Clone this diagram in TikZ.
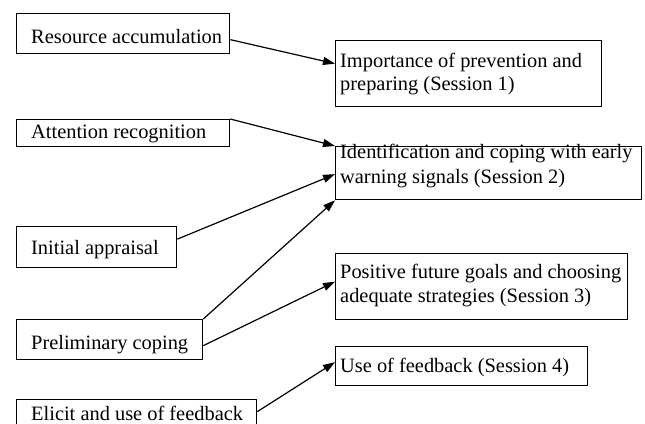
\documentclass[tikz,border=0pt]{standalone}
\usepackage{fontspec}
\setmainfont{Liberation Serif}
\usetikzlibrary{arrows.meta}
\begin{document}
\begin{tikzpicture}[x=1pt,y=-1pt,
  box/.style={draw, line width=1.3pt, inner sep=0pt, anchor=north west},
  txt/.style={anchor=base west, inner sep=0pt, font=\fontsize{20.4}{24}\selectfont},
  link/.style={line width=1.2pt, -{Triangle[length=12pt,width=8pt]}}]
\useasboundingbox (0,0) rectangle (645,423);
\clip (0,0) rectangle (645,423);

% left column: process components
\node[box, minimum width=213pt, minimum height=40pt] (res) at (16,13) {};
\node[txt] (resT) at (31,43) {Resource accumulation};
\node[box, minimum width=213pt, minimum height=27pt] (att) at (16,119) {};
\node[txt] (attT) at (31,138) {Attention recognition};
\node[box, minimum width=160pt, minimum height=41pt] (ini) at (16,226) {};
\node[txt] (iniT) at (31,254) {Initial appraisal};
\node[box, minimum width=186pt, minimum height=40pt] (pre) at (16,319) {};
\node[txt] (preT) at (31,349) {Preliminary coping};
\node[box, minimum width=240pt, minimum height=40pt] (eli) at (16,399) {};
\node[txt] (eliT) at (31,420) {Elicit and use of feedback};

% right column: training sessions
\node[box, minimum width=266pt, minimum height=66pt] (s1) at (335,40) {};
\node[txt] (s1a) at (340,67) {Importance of prevention and};
\node[txt] (s1b) at (340,90) {preparing (Session 1)};
\node[box, minimum width=306pt, minimum height=53pt] (s2) at (335,146) {};
\node[txt] (s2a) at (340,158) {Identification and coping with early};
\node[txt] (s2b) at (340,183) {warning signals (Session 2)};
\node[box, minimum width=292pt, minimum height=66pt] (s3) at (335,253) {};
\node[txt] (s3a) at (340,278) {Positive future goals and choosing};
\node[txt] (s3b) at (340,302) {adequate strategies (Session 3)};
\node[box, minimum width=252pt, minimum height=39pt] (s4) at (335,346) {};
\node[txt] (s4a) at (340,372) {Use of feedback (Session 4)};

% links
\draw[link] ([yshift=-6pt]res.east) -- ([yshift=10pt]s1.west);
\draw[link] (att.north east) -- (s2.north west);
\draw[link] ([yshift=8pt]ini.east) -- ([yshift=-1pt]s2.west);
\draw[link] (pre.north east) -- (s2.south west);
\draw[link] ([yshift=-6pt]pre.east) -- ([yshift=5pt]s3.west);
\draw[link] ([yshift=8pt]eli.east) -- ([yshift=4pt]s4.west);
\end{tikzpicture}
\end{document}
